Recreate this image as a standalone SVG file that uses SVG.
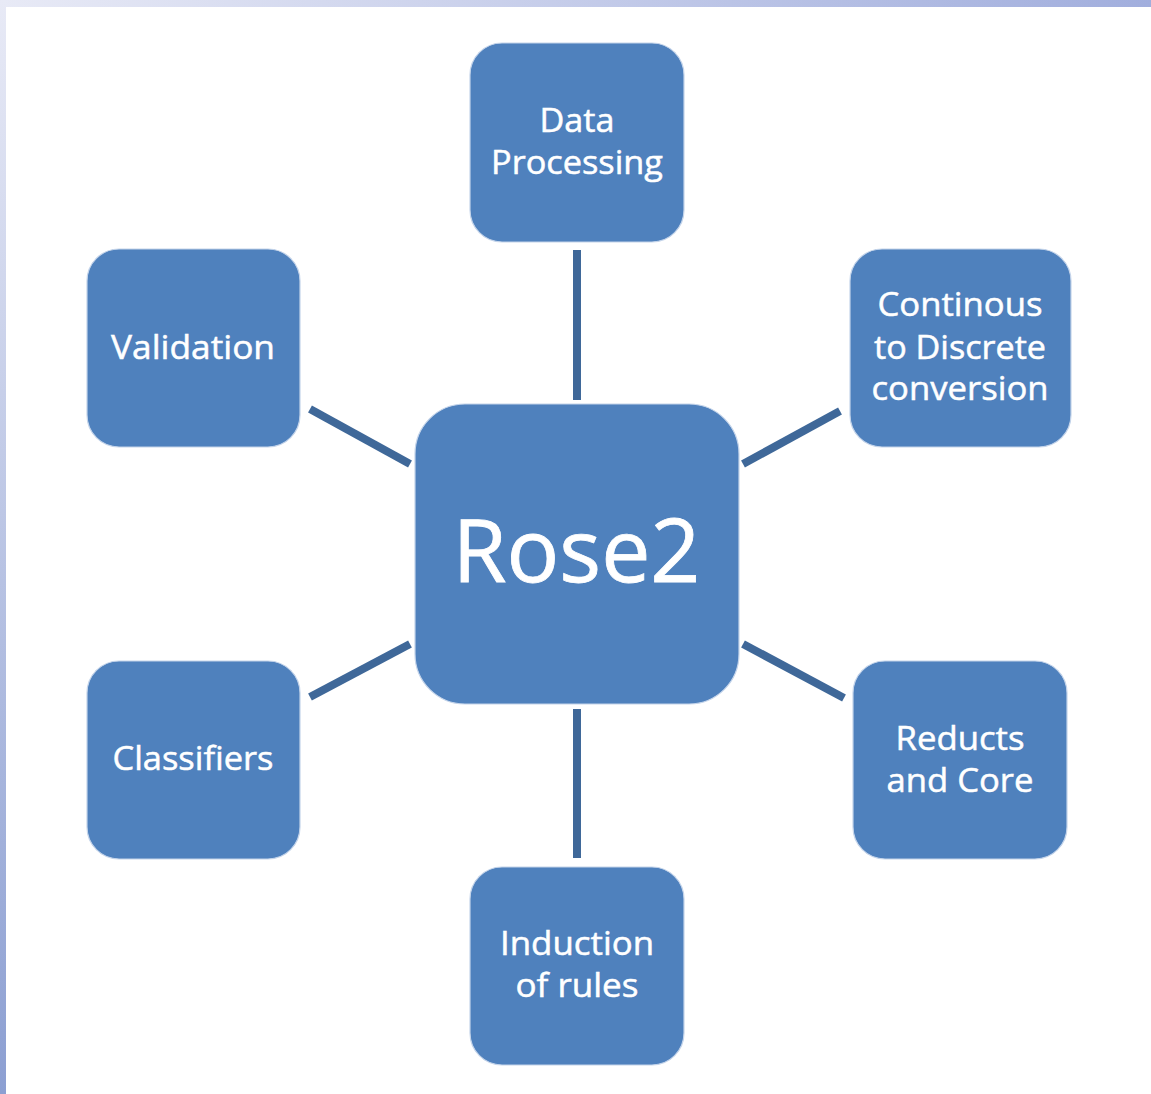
<svg xmlns="http://www.w3.org/2000/svg" width="1151" height="1094" viewBox="0 0 1151 1094">
  <defs>
    <linearGradient id="topBand" x1="0" y1="0" x2="1" y2="0">
      <stop offset="0" stop-color="#e8eaf6"/>
      <stop offset="1" stop-color="#a1aedd"/>
    </linearGradient>
    <linearGradient id="leftBand" x1="0" y1="0" x2="0" y2="1">
      <stop offset="0" stop-color="#e8eaf6"/>
      <stop offset="1" stop-color="#8c9fd2"/>
    </linearGradient>
  </defs>
  <style>
    .box { fill: #4f81bd; stroke: #c4d4ea; stroke-width: 1.2; }
    .lbl { font-family: "Open Sans", "Liberation Sans", sans-serif; font-size: 33px; fill: #ffffff; stroke: #ffffff; stroke-width: 0.5; text-anchor: middle; }
    .big { font-size: 87px; stroke-width: 0.8; }
    .conn line { stroke: #3f6899; stroke-width: 8; stroke-linecap: butt; }
  </style>
  <rect x="0" y="0" width="1151" height="1094" fill="#ffffff"/>
  <rect x="0" y="0" width="1151" height="7" fill="url(#topBand)"/>
  <rect x="0" y="0" width="6" height="1094" fill="url(#leftBand)"/>

  <g id="connectors" class="conn">
    <line x1="577" y1="250" x2="577" y2="400"/>
    <line x1="577" y1="709" x2="577" y2="858"/>
    <line x1="310" y1="409" x2="410" y2="464"/>
    <line x1="743" y1="464" x2="840" y2="411"/>
    <line x1="310" y1="697" x2="410" y2="644"/>
    <line x1="743" y1="644" x2="844" y2="698"/>
  </g>

  <g id="rose2">
    <rect class="box" x="415" y="404" width="324" height="300" rx="50" ry="50"/>
    <text class="lbl big" x="576.5" y="582" textLength="248" lengthAdjust="spacingAndGlyphs">Rose2</text>
  </g>

  <g id="data-processing">
    <rect class="box" x="470" y="43" width="214" height="199" rx="32" ry="32"/>
    <text class="lbl" x="577" y="132" textLength="75" lengthAdjust="spacingAndGlyphs">Data</text>
    <text class="lbl" x="577" y="174" textLength="172" lengthAdjust="spacingAndGlyphs">Processing</text>
  </g>

  <g id="continous">
    <rect class="box" x="850" y="249" width="221" height="198" rx="32" ry="32"/>
    <text class="lbl" x="960" y="316" textLength="165" lengthAdjust="spacingAndGlyphs">Continous</text>
    <text class="lbl" x="960" y="359" textLength="172" lengthAdjust="spacingAndGlyphs">to Discrete</text>
    <text class="lbl" x="960" y="400" textLength="177" lengthAdjust="spacingAndGlyphs">conversion</text>
  </g>

  <g id="validation">
    <rect class="box" x="87" y="249" width="213" height="198" rx="32" ry="32"/>
    <text class="lbl" x="193" y="359" textLength="164" lengthAdjust="spacingAndGlyphs">Validation</text>
  </g>

  <g id="classifiers">
    <rect class="box" x="87" y="661" width="213" height="198" rx="32" ry="32"/>
    <text class="lbl" x="193" y="770" textLength="161" lengthAdjust="spacingAndGlyphs">Classifiers</text>
  </g>

  <g id="reducts">
    <rect class="box" x="853" y="661" width="214" height="198" rx="32" ry="32"/>
    <text class="lbl" x="960" y="750" textLength="129" lengthAdjust="spacingAndGlyphs">Reducts</text>
    <text class="lbl" x="960" y="792" textLength="147" lengthAdjust="spacingAndGlyphs">and Core</text>
  </g>

  <g id="induction">
    <rect class="box" x="470" y="867" width="214" height="198" rx="32" ry="32"/>
    <text class="lbl" x="577" y="955" textLength="154" lengthAdjust="spacingAndGlyphs">Induction</text>
    <text class="lbl" x="577" y="997" textLength="123" lengthAdjust="spacingAndGlyphs">of rules</text>
  </g>
</svg>
